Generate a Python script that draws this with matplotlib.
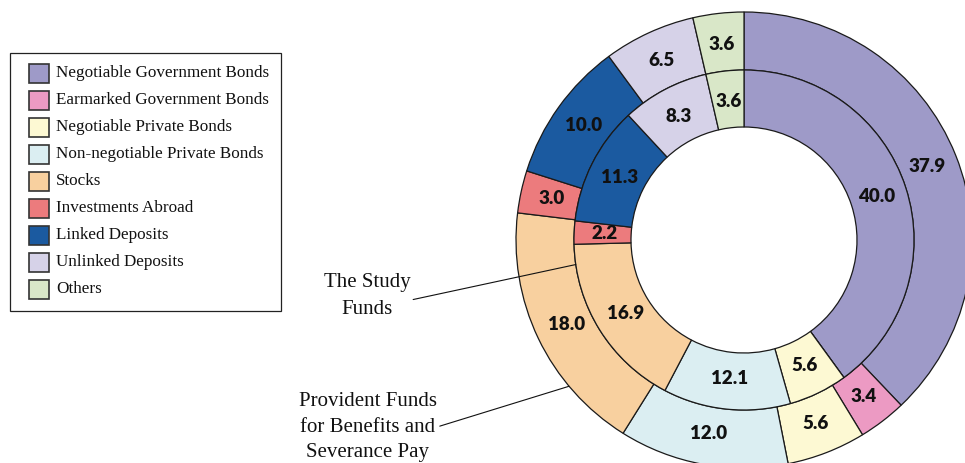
import numpy as np
import matplotlib
matplotlib.use("Agg")
from matplotlib import pyplot as plt
from matplotlib.patches import Rectangle

categories = [
    "Negotiable Government Bonds",
    "Earmarked Government Bonds",
    "Negotiable Private Bonds",
    "Non-negotiable Private Bonds",
    "Stocks",
    "Investments Abroad",
    "Linked Deposits",
    "Unlinked Deposits",
    "Others",
]
# percent of assets, outer ring = provident funds, inner ring = study funds
provident = [37.9, 3.4, 5.6, 12.0, 18.0, 3.0, 10.0, 6.5, 3.6]
study = [40.0, 0.0, 5.6, 12.1, 16.9, 2.2, 11.3, 8.3, 3.6]
colors = ["#9e9ac8", "#ec9ac3", "#fdf9d3", "#dbeef2", "#f8d09f",
          "#ec7b7d", "#1b5aa0", "#d6d2e8", "#d9e7c8"]

W, H = 965, 463
fig = plt.figure(figsize=(W / 100, H / 100), dpi=100)
ax = fig.add_axes([0, 0, 1, 1])

cx, cy = 744, H - 240
r_out, r_mid, r_in = 228, 170, 113
edge = dict(edgecolor="#1a1a1a", linewidth=0.9)

outer, _ = ax.pie(provident, radius=r_out, center=(cx, cy), startangle=90,
                  counterclock=False, colors=colors, frame=True,
                  wedgeprops=dict(width=r_out - r_mid, **edge))
inner, _ = ax.pie(study, radius=r_mid, center=(cx, cy), startangle=90,
                  counterclock=False, colors=colors, frame=True,
                  wedgeprops=dict(width=r_mid - r_in, **edge))

num_font = dict(family="Lato", fontweight="heavy", fontsize=13.5, color="#111111",
                ha="center", va="center")
for wedges, vals in ((outer, provident), (inner, study)):
    for w, v in zip(wedges, vals):
        if v <= 0:
            continue
        ang = np.deg2rad((w.theta1 + w.theta2) / 2)
        r = w.r - w.width / 2 - 2
        ax.text(cx + r * np.cos(ang), cy + r * np.sin(ang), f"{v:.1f}", **num_font)

# legend box
serif = dict(family="Liberation Serif", color="#111111")
ax.add_patch(Rectangle((10, H - 311), 271, 258, facecolor="white",
                       edgecolor="#222222", linewidth=0.9, zorder=5))
for i, (name, c) in enumerate(zip(categories, colors)):
    yc = H - (73 + 27 * i)
    ax.add_patch(Rectangle((29, yc - 9.5), 20, 19, facecolor=c,
                           edgecolor="#333333", linewidth=1.2, zorder=6))
    ax.text(56, yc, name, va="center", ha="left", fontsize=12.3, zorder=6, **serif)


def ring_point(deg, r):
    a = np.deg2rad(deg)
    return cx + r * np.cos(a), cy + r * np.sin(a)


line = dict(arrowstyle="-", color="#111111", lw=0.8, shrinkA=0, shrinkB=0)
ax.annotate("The Study\nFunds", xy=ring_point(188.3, r_mid), xytext=(367, H - 296),
            ha="center", va="center", multialignment="center", linespacing=1.5,
            arrowprops=dict(relpos=(0.98, 0.4), **line),
            fontsize=15, zorder=7, **serif)
ax.annotate("Provident Funds\nfor Benefits and\nSeverance Pay", xy=ring_point(219.9, r_out),
            xytext=(368, H - 427), ha="center", va="center", multialignment="center",
            linespacing=1.5, arrowprops=dict(relpos=(1.0, 0.5), **line),
            fontsize=15, zorder=7, **serif)

ax.set_xlim(0, W)
ax.set_ylim(0, H)
ax.set_aspect("equal")
ax.axis("off")

fig.savefig("out.png", dpi=100)
